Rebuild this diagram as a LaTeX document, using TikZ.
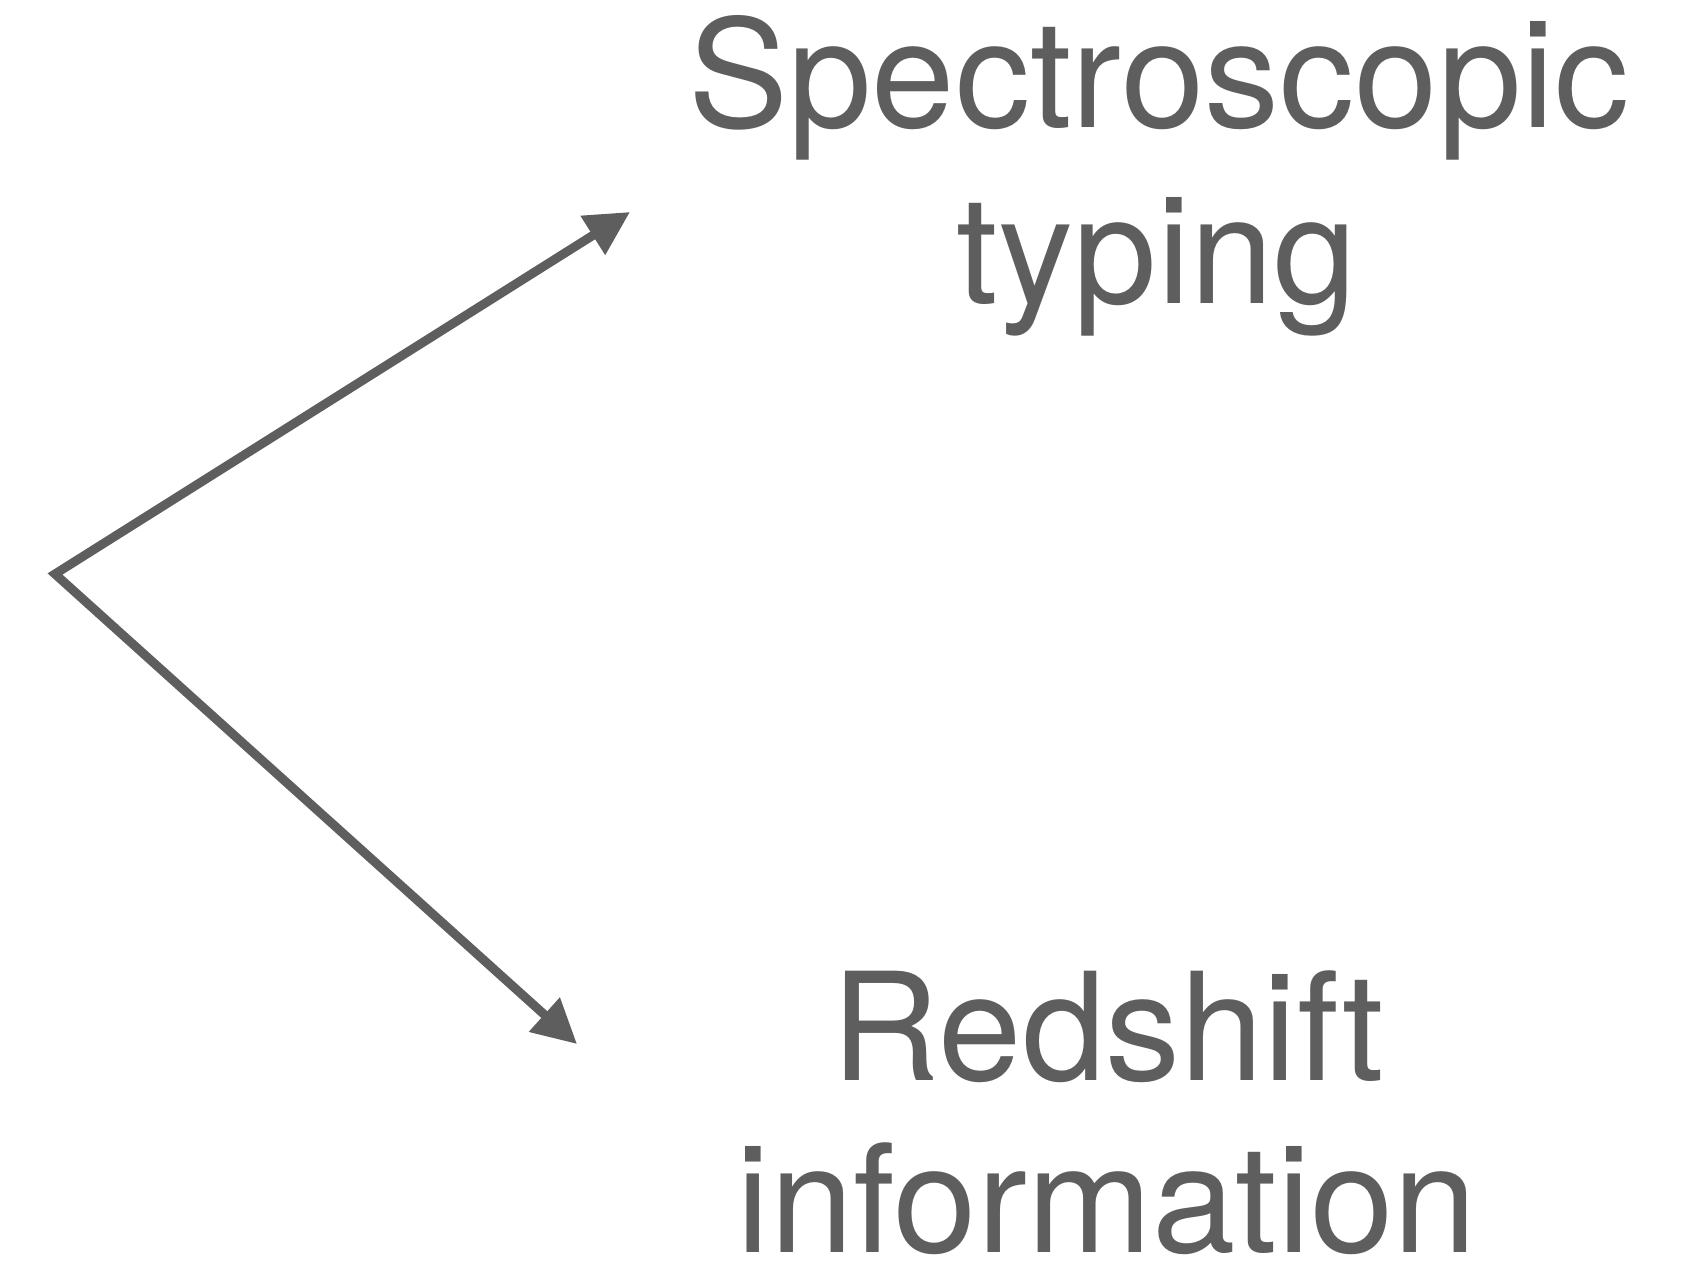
\documentclass[tikz,border=0pt]{standalone}
\usepackage{fontspec}
\setmainfont{TeX Gyre Heros}
\usetikzlibrary{arrows.meta}
\definecolor{ink}{HTML}{5E5E5E}
\begin{document}
\begin{tikzpicture}[x=1pt,y=-1pt,
  label/.style={text=ink, inner sep=0pt, anchor=base,
    font=\fontsize{150}{176}\selectfont},
  conn/.style={draw=ink, line width=9pt, miter limit=20,
    {Triangle[length=44pt,width=44pt]}-{Triangle[length=44pt,width=44pt]}}]
\useasboundingbox (0,0) rectangle (1702,1267);
\node[label] (spec1) at (1159,127) {Spectroscopic};
\node[label] (spec2) at (1157,303) {typing};
\node[label] (red1) at (1108,1080) {Redshift};
\node[label] (red2) at (1107,1252) {information};
\coordinate (origin) at (55,574);
\coordinate (tipA) at (630,212);
\coordinate (tipB) at (577,1044);
\draw[conn] (tipA) -- (origin) -- (tipB);
\end{tikzpicture}
\end{document}
